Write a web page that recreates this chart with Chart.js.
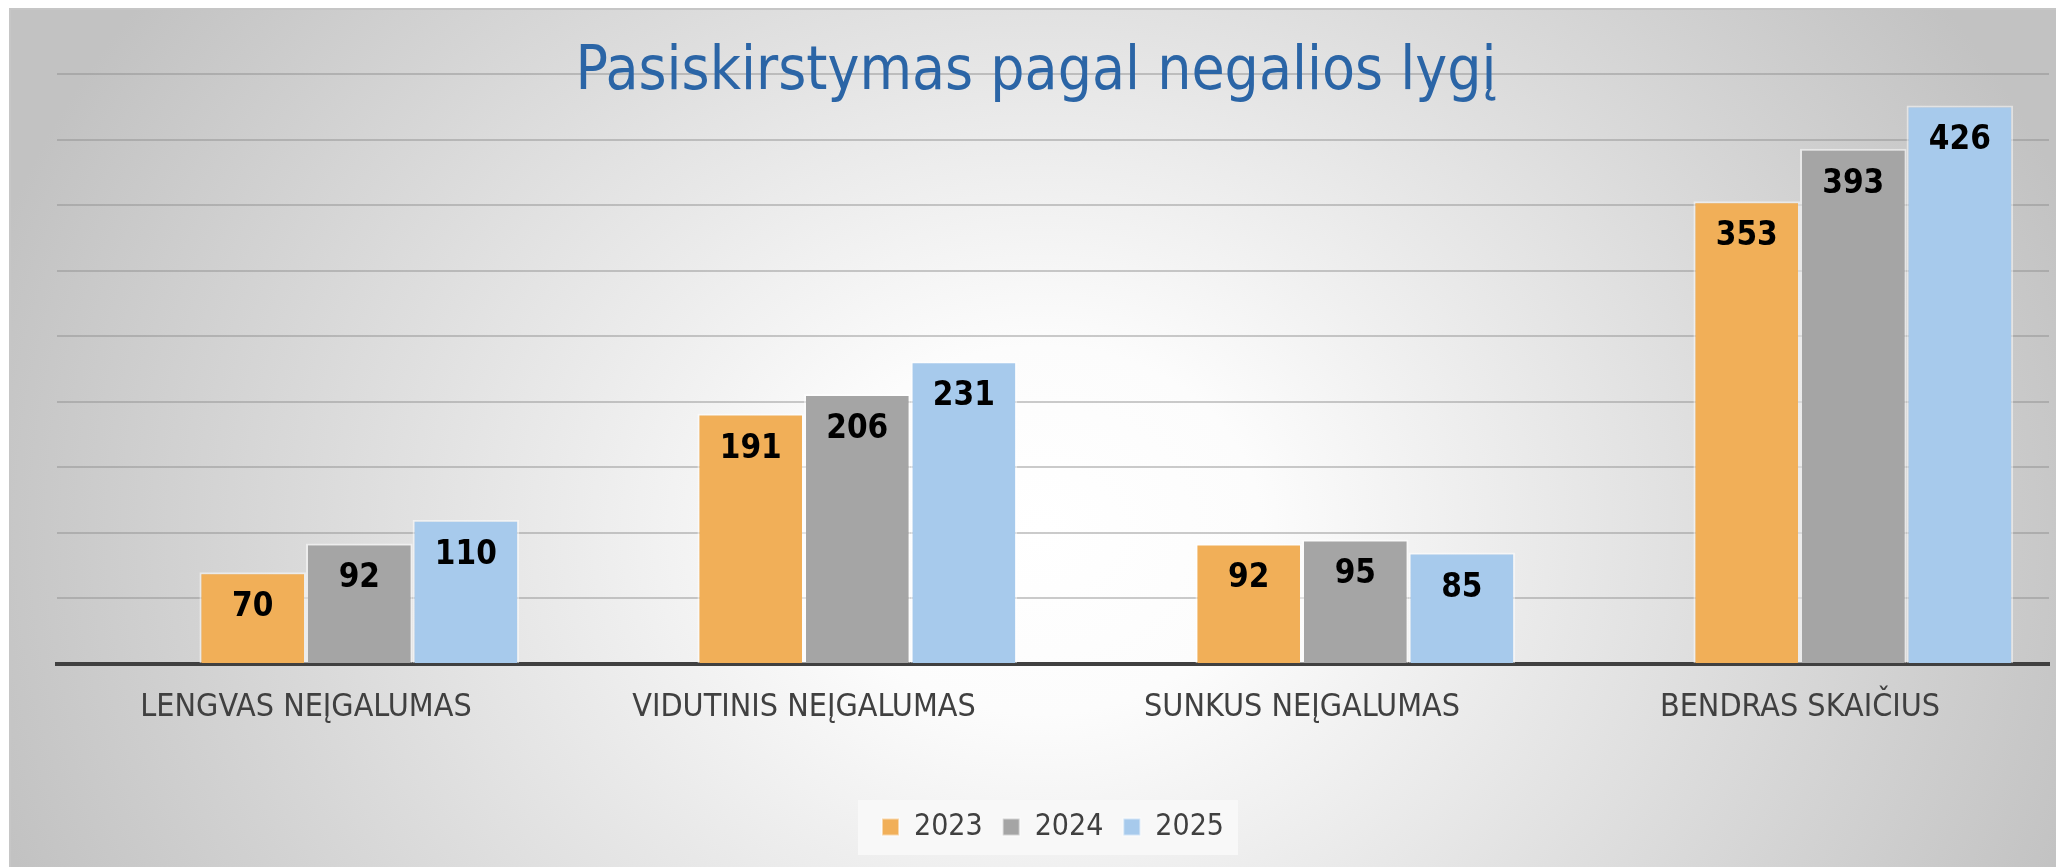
<!DOCTYPE html>
<html>
<head>
<meta charset="utf-8">
<script src="https://cdn.jsdelivr.net/npm/chart.js@4.4.1/dist/chart.umd.min.js"></script>
<style>
    html, body { margin: 0; padding: 0; background: #ffffff; }
    #wrap { position: relative; width: 2056px; height: 867px; overflow: hidden; }
    #frame {
        position: absolute; left: 9px; top: 8px; width: 2080px; height: 880px;
        border: 2px solid #c6c6c6;
        background: radial-gradient(ellipse 1100px 920px at 1030px 520px, #ffffff 0%, #fcfcfc 20%, #c2c2c2 100%);
    }
    #chart { position: absolute; left: 0; top: 0; }
</style>
</head>
<body>
<div id="wrap">
    <div id="frame"></div>
    <canvas id="chart" width="2056" height="867"></canvas>
</div>
<script>
// categories and series
const categories = ['LENGVAS NEĮGALUMAS', 'VIDUTINIS NEĮGALUMAS', 'SUNKUS NEĮGALUMAS', 'BENDRAS SKAIČIUS'];
const years = ['2023', '2024', '2025'];
const values2023 = [70, 191, 92, 353];
const values2024 = [92, 206, 95, 393];
const values2025 = [110, 231, 85, 426];
const emptySlot = [null, null, null, null]; // first slot of every group is empty in the original
const yTicks = { min: 0, max: 450, step: 50 };

const titleText = 'Pasiskirstymas pagal negalios lygį';
const narrowFont = '"Liberation Sans Narrow", "Arial Narrow", "DejaVu Sans Condensed", sans-serif';
const barColors = ['#f1af58', '#a5a5a5', '#a7caec'];
const textColor = '#404040';

// title, drawn over the top gridline
const titlePlugin = {
    id: 'titleText',
    afterDraw(chart) {
        const ctx = chart.ctx;
        ctx.save();
        ctx.font = '60px ' + narrowFont;
        ctx.fillStyle = '#2b65a6';
        ctx.textAlign = 'center';
        ctx.textBaseline = 'alphabetic';
        ctx.fillText(titleText, 1036, 89);
        ctx.restore();
    }
};

// value labels inside the top of each bar
const valueLabels = {
    id: 'valueLabels',
    afterDatasetsDraw(chart) {
        const ctx = chart.ctx;
        ctx.save();
        ctx.font = 'bold 33px "DejaVu Sans Condensed", "DejaVu Sans", sans-serif';
        if ('fontStretch' in ctx) ctx.fontStretch = 'condensed';
        ctx.fillStyle = '#000000';
        ctx.textAlign = 'center';
        ctx.textBaseline = 'alphabetic';
        chart.data.datasets.forEach((ds, i) => {
            const meta = chart.getDatasetMeta(i);
            meta.data.forEach((bar, j) => {
                const v = ds.data[j];
                if (v == null) return;
                ctx.fillText(v, bar.x, bar.y + 44);
            });
        });
        ctx.restore();
    }
};

// light panel behind the legend
const legendPanel = {
    id: 'legendPanel',
    beforeDraw(chart) {
        const lg = chart.legend;
        if (!lg || !lg.legendHitBoxes || !lg.legendHitBoxes.length) return;
        const boxes = lg.legendHitBoxes;
        const left = Math.min(...boxes.map(b => b.left)) - 24;
        const right = Math.max(...boxes.map(b => b.left + b.width)) + 14;
        const mid = boxes[0].top + boxes[0].height / 2;
        const ctx = chart.ctx;
        ctx.save();
        ctx.fillStyle = '#f8f8f8';
        ctx.fillRect(left, mid - 27, right - left, 55);
        ctx.restore();
    }
};

const datasets = [{
    label: '',
    data: emptySlot,
    backgroundColor: 'rgba(0,0,0,0)',
}];
[values2023, values2024, values2025].forEach((vals, i) => {
    datasets.push({
        label: years[i],
        data: vals,
        backgroundColor: barColors[i],
        borderColor: 'rgba(255,255,255,0.5)',
        borderWidth: 2,
        borderSkipped: 'bottom',
    });
});

new Chart(document.getElementById('chart').getContext('2d'), {
    type: 'bar',
    data: {
        labels: categories,
        datasets: datasets,
    },
    options: {
        responsive: false,
        animation: false,
        devicePixelRatio: 1,
        layout: {
            padding: { left: 57, right: 7, top: 74, bottom: 15 }
        },
        datasets: {
            bar: {
                categoryPercentage: 0.856,
                barPercentage: 1.0,
            }
        },
        plugins: {
            title: { display: false },
            tooltip: { enabled: false },
            legend: {
                display: true,
                position: 'bottom',
                labels: {
                    filter: (item) => item.text !== '',
                    boxWidth: 17,
                    boxHeight: 17,
                    padding: 20,
                    color: textColor,
                    font: { family: narrowFont, size: 30 },
                }
            }
        },
        scales: {
            y: {
                min: yTicks.min,
                max: yTicks.max,
                ticks: { display: false, stepSize: yTicks.step },
                border: { display: false },
                grid: {
                    color: 'rgba(140,140,140,0.45)',
                    lineWidth: 2,
                    drawTicks: false,
                },
                afterFit: (s) => { s.width = 0; },
            },
            x: {
                ticks: {
                    color: textColor,
                    padding: 24,
                    maxRotation: 0,
                    font: { family: narrowFont, size: 32 },
                },
                grid: { display: false, drawTicks: false },
                border: { display: true, color: '#404040', width: 4 },
                afterFit: (s) => { s.height = 128; },
            }
        }
    },
    plugins: [legendPanel, valueLabels, titlePlugin]
});
</script>
</body>
</html>
